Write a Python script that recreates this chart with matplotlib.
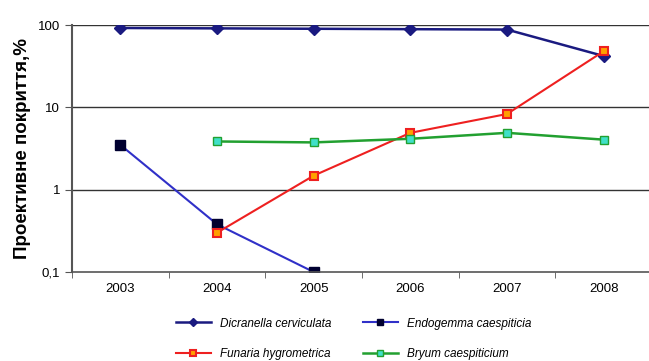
import matplotlib.pyplot as plt

plt.rcParams['font.family'] = ['Liberation Sans', 'DejaVu Sans']

years = ['2003', '2004', '2005', '2006', '2007', '2008']

# проективне покриття, %
dicranella = [92, 91, 90, 89, 88, 42]
endogemma = [3.5, 0.38, 0.1, None, None, None]
funaria = [None, 0.30, 1.48, 4.9, 8.3, 48]
bryum = [None, 3.85, 3.75, 4.15, 4.9, 4.05]

def pts(vals):
    xs = [i for i, v in enumerate(vals) if v is not None]
    ys = [v for v in vals if v is not None]
    return xs, ys

fig = plt.figure(figsize=(6.49, 3.61), dpi=100)
ax = fig.add_axes([72 / 649, 89 / 361, 580 / 649, 247 / 361])

x, y = pts(dicranella)
l1, = ax.plot(x, y, color='#1a1a80', lw=1.8, marker='D', ms=6,
              mfc='#1a1a80', mec='#1a1a80', label='Dicranella cerviculata')
x, y = pts(endogemma)
l2, = ax.plot(x, y, color='#3030c8', lw=1.5, marker='s', ms=6.5,
              mfc='#000030', mec='#000030', label='Endogemma caespiticia')
x, y = pts(funaria)
l3, = ax.plot(x, y, color='#ee2020', lw=1.5, marker='s', ms=6,
              mfc='#ffa000', mec='#ee2020', mew=1.5, label='Funaria hygrometrica')
x, y = pts(bryum)
l4, = ax.plot(x, y, color='#22a030', lw=1.8, marker='s', ms=5.5,
              mfc='#40e0c8', mec='#22a030', label='Bryum caespiticium')

ax.set_yscale('log')
ax.set_ylim(0.1, 100)
ax.set_xlim(-0.5, 5.5)
ax.set_yticks([0.1, 1, 10, 100])
ax.set_yticklabels(['0,1', '1', '10', '100'])
ax.minorticks_off()
ax.set_xticks(range(len(years)))
ax.set_xticklabels(years)
ax.set_xticks([i - 0.5 for i in range(len(years) + 1)], minor=True)
ax.tick_params(axis='x', which='major', length=0, pad=8, labelsize=9.5)
ax.tick_params(axis='x', which='minor', length=4, color='#555555')
ax.tick_params(axis='y', length=5, color='#555555', labelsize=9.5)

for v in [1, 10, 100]:
    ax.axhline(v, color='#333333', lw=1.0, zorder=0)

for s in ['top', 'right']:
    ax.spines[s].set_visible(False)
ax.spines['left'].set_color('#555555')
ax.spines['left'].set_linewidth(1.5)
ax.spines['bottom'].set_color('#555555')
ax.spines['bottom'].set_linewidth(1.2)

ax.set_ylabel('Проективне покриття,%', fontsize=13.5, fontweight='bold', labelpad=5)

fig.legend(handles=[l1, l3, l2, l4], ncol=2, frameon=False,
           loc='lower center', bbox_to_anchor=(0.545, -0.028),
           prop={'style': 'italic', 'size': 8.5}, handlelength=3,
           markerscale=0.75, columnspacing=2.6, labelspacing=1.6)

fig.savefig('out.png', dpi=100)
